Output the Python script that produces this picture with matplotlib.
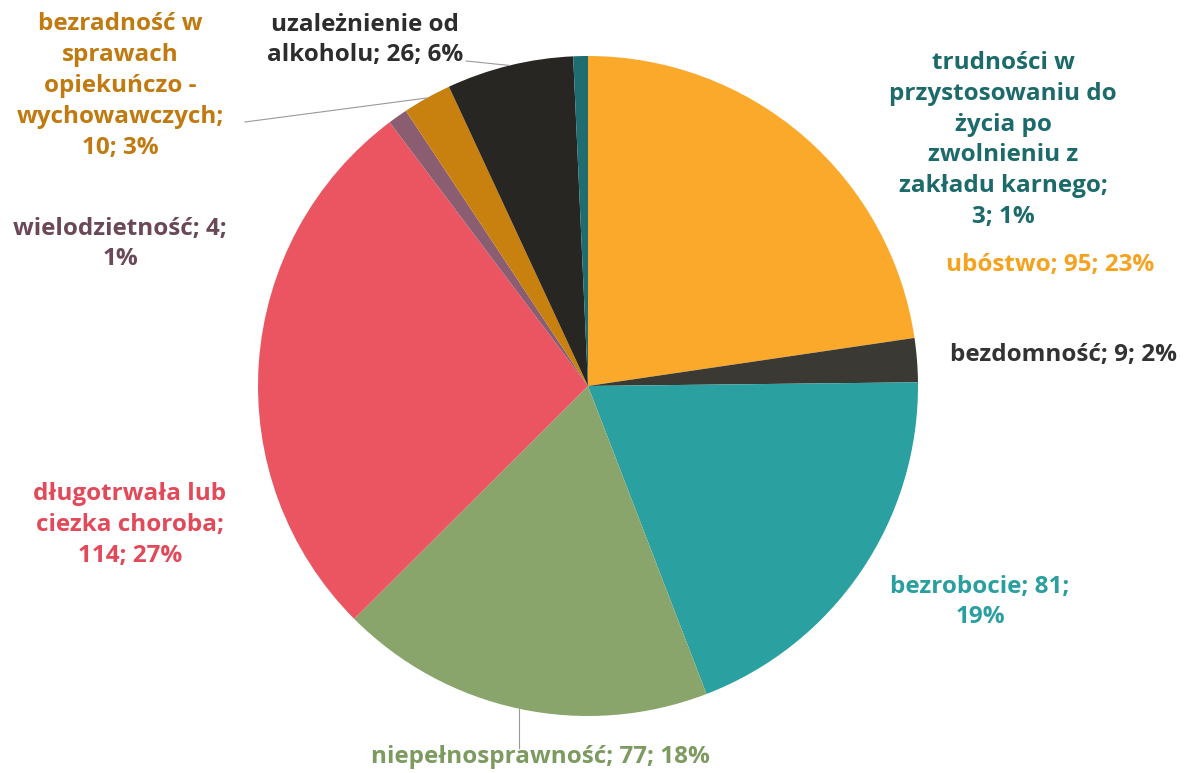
import numpy as np
import matplotlib
matplotlib.use("Agg")
import matplotlib.pyplot as plt

plt.rcParams['font.family'] = ['Open Sans', 'DejaVu Sans']

W, H = 1194, 773

# clockwise from 12 o'clock
categories = ['ubóstwo', 'bezdomność', 'bezrobocie', 'niepełnosprawność',
              'długotrwała lub ciezka choroba', 'wielodzietność',
              'bezradność w sprawach opiekuńczo - wychowawczych',
              'uzależnienie od alkoholu',
              'trudności w przystosowaniu do życia po zwolnieniu z zakładu karnego']
values = [95, 9, 81, 77, 114, 4, 10, 26, 3]
percents = [23, 2, 19, 18, 27, 1, 3, 6, 1]
label_texts = ['ubóstwo; 95; 23%',
               'bezdomność; 9; 2%',
               'bezrobocie; 81;\n19%',
               'niepełnosprawność; 77; 18%',
               'długotrwała lub\nciezka choroba;\n114; 27%',
               'wielodzietność; 4;\n1%',
               'bezradność w\nsprawach\nopiekuńczo -\nwychowawczych;\n10; 3%',
               'uzależnienie od\nalkoholu; 26; 6%',
               'trudności w\nprzystosowaniu do\nżycia po\nzwolnieniu z\nzakładu karnego;\n3; 1%']

slice_colors = ['#fba92b', '#3a3934', '#2aa0a1', '#8aa56b', '#ea5561',
                '#8a5e70', '#c8800f', '#272622', '#1f6d70']
text_colors = ['#f5a31f', '#333333', '#2b9fa0', '#7d9b60', '#e24a5a',
               '#6b4858', '#c07a10', '#2d2d2d', '#1d6a6b']

# text centre positions (pixels from top-left)
text_pos = [(1050, 265), (1064, 355), (980, 602), (540, 757), (130, 525),
            (120, 244), (120, 86), (365, 40), (1003, 140)]

cx, cy, R = 588, 386, 330

fig = plt.figure(figsize=(W / 100, H / 100), dpi=100)
fig.patch.set_facecolor('white')
ax = fig.add_axes([0, 0, 1, 1])

wedges, _ = ax.pie(values, colors=slice_colors, startangle=90, counterclock=False,
                   center=(cx, H - cy), radius=R, frame=True)
ax.set_xlim(0, W)
ax.set_ylim(0, H)
ax.set_aspect('equal')
ax.axis('off')

for i, txt in enumerate(label_texts):
    tx, ty = text_pos[i]
    ax.text(tx, H - ty, txt, ha='center', va='center', fontsize=17.5,
            fontweight='bold', color=text_colors[i], linespacing=1.38)

# leader lines for a few labels
def edge_point(i):
    w = wedges[i]
    ang = np.deg2rad((w.theta1 + w.theta2) / 2)
    return cx + R * np.cos(ang), H - cy + R * np.sin(ang)

ex, ey = edge_point(7)
ax.plot([466, ex], [H - 61, ey], color='#999999', lw=0.8)
ex, ey = edge_point(6)
ax.plot([245, ex], [H - 122, ey], color='#999999', lw=0.8)
ex, ey = edge_point(3)
ax.plot([ex, ex], [ey, H - 748], color='#999999', lw=0.8)

fig.savefig('out.png', dpi=100, facecolor='white')
